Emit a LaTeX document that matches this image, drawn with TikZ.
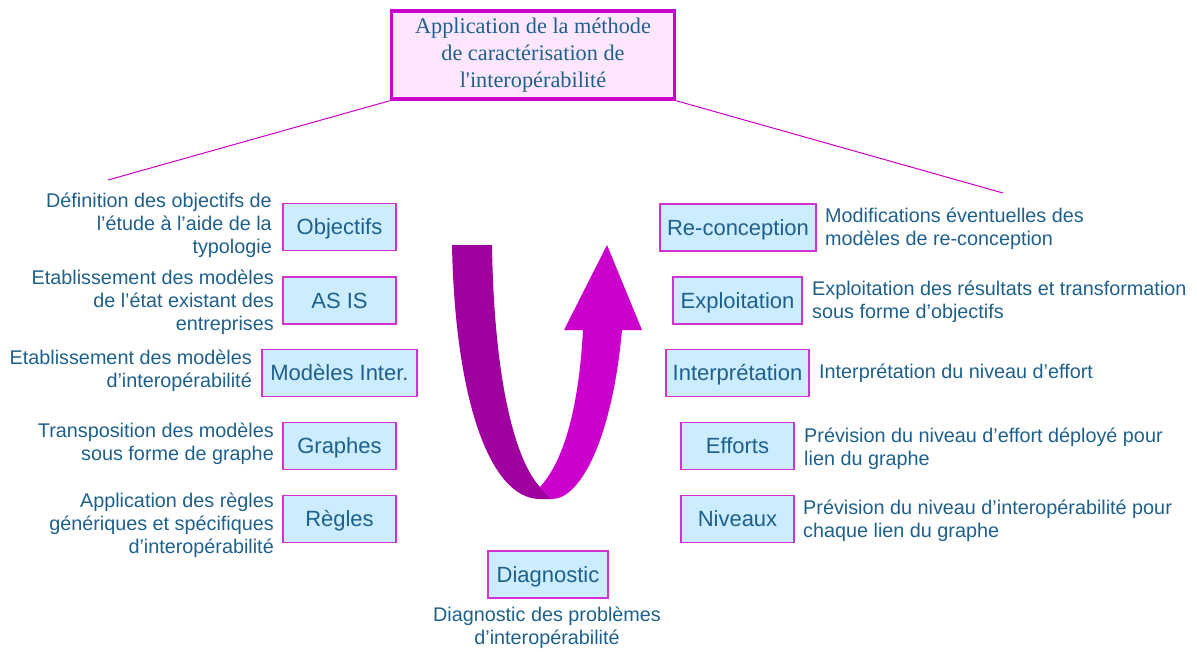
\documentclass[tikz,border=0pt]{standalone}
\usepackage{fontspec}
\setmainfont{Liberation Sans}
\newfontfamily\titlefont{Liberation Serif}
\definecolor{ink}{RGB}{30,96,140}
\definecolor{boxfill}{RGB}{204,236,255}
\definecolor{boxline}{RGB}{210,50,210}
\definecolor{titlefill}{RGB}{255,230,255}
\definecolor{magentaline}{RGB}{204,0,204}
\definecolor{ribbondark}{RGB}{160,0,160}
\definecolor{ribbonlight}{RGB}{204,0,204}
\begin{document}
\begin{tikzpicture}[x=1pt,y=-1pt,
  stage/.style={draw=boxline, fill=boxfill, line width=1.1pt, minimum height=47pt,
    inner sep=0pt, text height=15.8pt, text depth=0pt, text=ink,
    font=\fontsize{22}{26}\selectfont},
  note/.style={inner sep=0pt, text=ink, font=\fontsize{19.8}{23.2}\selectfont},
  notel/.style={note, align=right, anchor=east},
  noter/.style={note, align=left, anchor=west},
  link/.style={draw=magentaline, line width=1pt}]
\useasboundingbox (0,0) rectangle (1197,651);

% title box
\node[draw=magentaline, fill=titlefill, line width=3.5pt, minimum width=283pt,
  minimum height=88pt, inner sep=0pt, text=ink, align=center,
  font=\titlefont\fontsize{22.3}{27}\selectfont] (title) at (533,55)
  {Application de la méthode\\de caractérisation de\\l\textquotesingle interopérabilité};

\coordinate (lend) at (108,180);
\coordinate (rend) at (1003,193);
\draw[link] (title.south west) -- (lend);
\draw[link] (title.south east) -- (rend);

% U-shaped ribbon arrow
\fill[ribbondark] (452,245) -- (492,245) .. controls (494,380) and (515,460) .. (540,487)
  -- (552,499) -- (540,499) .. controls (490,499) and (455,400) .. (452,245) -- cycle;
\fill[ribbonlight] (583,330) .. controls (578,420) and (560,465) .. (540,487)
  -- (552,499) .. controls (580,499) and (612,440) .. (622,330)
  -- (642,330) -- (607,245) -- (564,330) -- cycle;

% left column
\node[stage, minimum width=113pt] (obj) at (339.5,227) {Objectifs};
\node[stage, minimum width=113pt] (asis) at (339.5,300.5) {AS IS};
\node[stage, minimum width=155pt] (inter) at (339.5,373) {Modèles Inter.};
\node[stage, minimum width=113pt] (graph) at (339.5,446) {Graphes};
\node[stage, minimum width=113pt] (regl) at (339.5,519) {Règles};

\node[notel] (dobj) at (272,225) {Définition des objectifs de\\l’étude à l’aide de la\\typologie};
\node[notel] (dasis) at (274,302) {Etablissement des modèles\\de l’état existant des\\entreprises};
\node[notel] (dinter) at (252,370.5) {Etablissement des modèles\\d’interopérabilité};
\node[notel] (dgraph) at (274,443.5) {Transposition des modèles\\sous forme de graphe};
\node[notel] (dregl) at (274,525) {Application des règles\\génériques et spécifiques\\d’interopérabilité};

% right column
\node[stage, minimum width=156pt] (recon) at (738,227.5) {Re-conception};
\node[stage, minimum width=129pt] (expl) at (737.5,300.5) {Exploitation};
\node[stage, minimum width=143pt] (interp) at (737.5,373) {Interprétation};
\node[stage, minimum width=113pt] (eff) at (737.5,446) {Efforts};
\node[stage, minimum width=113pt] (niv) at (737.5,519) {Niveaux};

\node[noter] (drecon) at (825,228.5) {Modifications éventuelles des\\modèles de re-conception};
\node[noter] (dexpl) at (812,301.5) {Exploitation des résultats et transformation\\sous forme d’objectifs};
\node[noter] (dinterp) at (819,373.5) {Interprétation du niveau d’effort};
\node[noter] (deff) at (804,448.5) {Prévision du niveau d’effort déployé pour\\lien du graphe};
\node[noter] (dniv) at (803,520.5) {Prévision du niveau d’interopérabilité pour\\chaque lien du graphe};

% bottom
\node[stage, minimum width=120pt] (diag) at (548,574.5) {Diagnostic};
\node[note, align=center] (ddiag) at (547,627.5) {Diagnostic des problèmes\\d’interopérabilité};
\end{tikzpicture}
\end{document}
